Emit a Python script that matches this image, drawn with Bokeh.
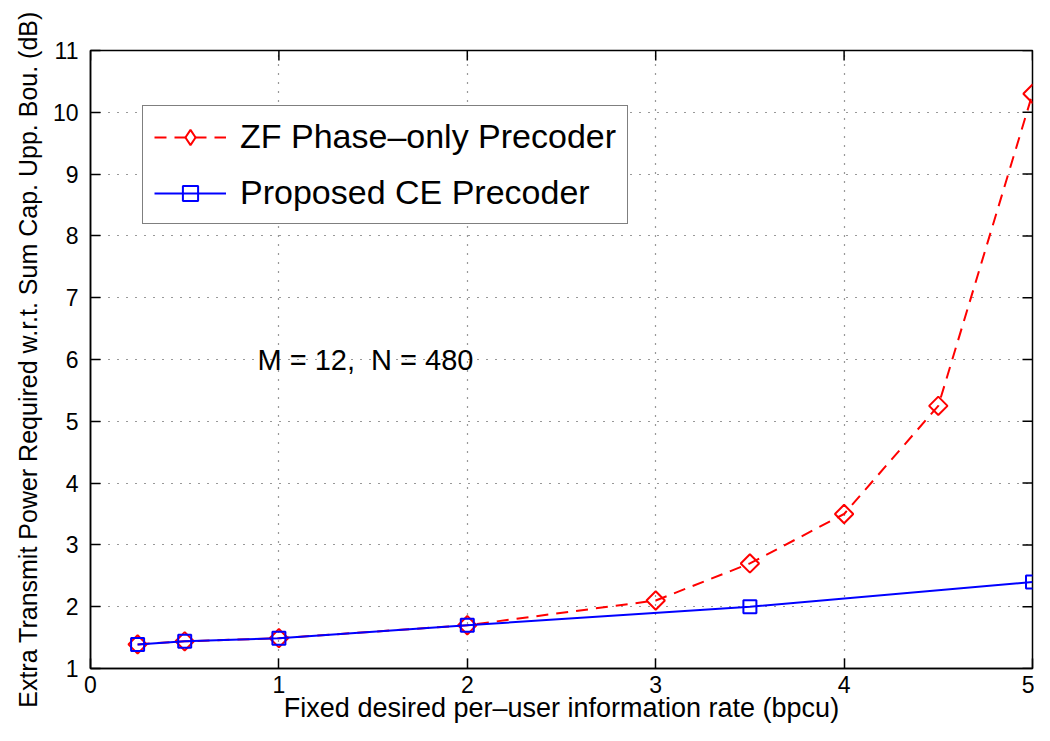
import math
from bokeh.plotting import figure
from bokeh.models import (Range1d, FixedTicker, Legend, LegendItem, Label,
                          ColumnDataSource)
from bokeh.embed import file_html
from bokeh.resources import INLINE

# ---- data ----
x_zf = [0.25, 0.5, 1, 2, 3, 3.5, 4, 4.5, 5]
y_zf = [1.39, 1.44, 1.49, 1.70, 2.10, 2.70, 3.50, 5.25, 10.30]
x_ce = [0.25, 0.5, 1, 2, 3.5, 5]
y_ce = [1.39, 1.44, 1.49, 1.70, 2.00, 2.40]
x_ticks = [0, 1, 2, 3, 4, 5]
y_ticks = [1, 2, 3, 4, 5, 6, 7, 8, 9, 10, 11]
zf_label = "ZF Phase–only Precoder"
ce_label = "Proposed CE Precoder"
x_title = "Fixed desired per–user information rate (bpcu)"
y_title = "Extra Transmit Power Required w.r.t. Sum Cap. Upp. Bou. (dB)"
note = "M = 12,\u00a0 N = 480"

FONT = "Liberation Sans"
X_MIN, X_MAX = 0, 5
Y_MIN, Y_MAX = 1, 11

p = figure(width=1034, height=725, output_backend="svg", toolbar_location=None,
           x_range=Range1d(X_MIN, X_MAX), y_range=Range1d(Y_MIN, Y_MAX),
           min_border_left=90, min_border_right=2, min_border_top=50, min_border_bottom=40)
# an off-screen range used only to give the legend its diamond sample
p.extra_y_ranges = {"legend_only": Range1d(1000, 1001)}
p.background_fill_color = "white"
p.border_fill_color = "white"
p.outline_line_color = "black"
p.outline_line_width = 1.5

for ax, ticks in ((p.xaxis[0], x_ticks), (p.yaxis[0], y_ticks)):
    ax.ticker = FixedTicker(ticks=ticks)
    ax.major_tick_in = 10
    ax.major_tick_out = 0
    ax.minor_tick_in = 0
    ax.minor_tick_out = 0
    ax.axis_line_color = "black"
    ax.axis_line_width = 1.5
    ax.major_tick_line_color = "black"
    ax.major_tick_line_width = 1.5
    ax.major_label_text_color = "black"
    ax.axis_label_text_color = "black"
    ax.axis_label_text_font_style = "normal"
    ax.major_label_text_font = FONT
    ax.axis_label_text_font = FONT

p.xaxis.major_label_text_font_size = "23px"
p.xaxis.major_label_standoff = 7
p.xaxis.axis_label = x_title
p.xaxis.axis_label_text_font_size = "27px"
p.xaxis.axis_label_standoff = -3

p.yaxis.major_label_text_font_size = "23px"
p.yaxis.major_label_standoff = 12
p.yaxis.axis_label = y_title
p.yaxis.axis_label_text_font_size = "25px"
p.yaxis.axis_label_standoff = 8

for g in (p.xgrid[0], p.ygrid[0]):
    g.grid_line_color = "#333333"
    g.grid_line_dash = "1 8"
    g.grid_line_width = 1.2

# inward tick marks on the right and top edges (clipped to the frame)
p.scatter([X_MAX] * len(y_ticks), y_ticks, marker="dash", size=20,
          line_color="black", line_width=1.5)
p.scatter(x_ticks, [Y_MAX] * len(x_ticks), marker="dash", size=20, angle=math.pi / 2,
          line_color="black", line_width=1.5)

zf_src = ColumnDataSource(dict(x=x_zf, y=y_zf))
ce_src = ColumnDataSource(dict(x=x_ce, y=y_ce))

# ZF curve (red dashed, hollow diamonds)
zl = p.line("x", "y", source=zf_src, line_color="red", line_width=2, line_dash="12 8")
zm = p.scatter("x", "y", source=zf_src, marker="square", size=13, angle=math.pi / 4,
               line_color="red", line_width=2, fill_alpha=0)
# Proposed CE curve (blue solid, hollow squares)
cl = p.line("x", "y", source=ce_src, line_color="blue", line_width=2)
cm = p.scatter("x", "y", source=ce_src, marker="square", size=13,
               line_color="blue", line_width=2, fill_alpha=0)

# legend-only diamond sample: same data, mapped to an off-screen range
zleg = p.scatter("x", "y", source=zf_src, y_range_name="legend_only",
                 marker="diamond", size=29,
                 line_color="red", line_width=2, fill_alpha=0)

legend = Legend(items=[LegendItem(label=zf_label, renderers=[zl, zleg]),
                       LegendItem(label=ce_label, renderers=[cl, cm])],
                location=(52, 444), orientation="vertical",
                glyph_width=72, glyph_height=38, label_standoff=14,
                padding=11, spacing=17, margin=0,
                label_text_font=FONT, label_text_font_size="34px",
                label_text_color="black",
                border_line_color="black", border_line_width=1.5,
                background_fill_color="white", background_fill_alpha=1)
p.add_layout(legend, "center")

p.add_layout(Label(x=0.886, y=6.0, text=note, text_font=FONT, text_font_size="29px",
                   text_baseline="middle", text_align="left", text_color="black"))

open("out.html", "w").write(file_html(p, INLINE))
